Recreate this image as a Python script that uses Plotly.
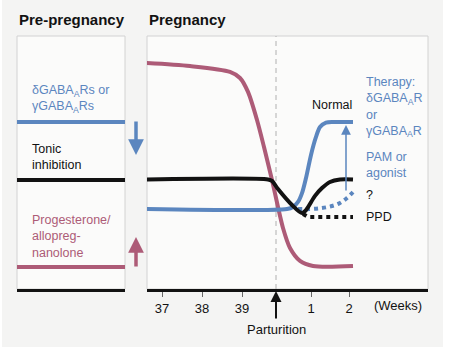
import plotly.graph_objects as go

# ---------------- data ----------------
# x positions on a week timeline (gestational weeks; parturition ~39.85)
tick_vals = [37, 38, 39, 40.725, 41.675]
tick_text = ["37", "38", "39", "1", "2"]
parturition_x = 39.85

# relative levels (0-100)
prog_x = [36.62, 37.7, 38.7, 38.95, 39.15, 39.375, 39.55, 39.75, 40.025, 40.2, 40.45, 40.775, 41.775]
prog_y = [89.3, 88.1, 85.8, 83.4, 77.9, 66.8, 56.1, 43.1, 24.1, 16.2, 11.1, 9.1, 9.1]

tonic_x = [36.62, 39.65, 39.75, 39.9, 40.25, 40.5, 40.6, 40.825, 41.0, 41.2, 41.45, 41.775]
tonic_y = [43.3, 43.3, 42.7, 39.5, 33.2, 30.0, 31.2, 36.8, 39.9, 42.3, 43.3, 43.3]

gaba_x = [36.62, 40.125, 40.275, 40.4, 40.5, 40.6, 40.725, 40.85, 40.95, 41.1, 41.325, 41.775]
gaba_y = [31.6, 31.6, 32.4, 34.4, 37.9, 43.9, 53.0, 60.1, 64.0, 65.8, 66.0, 66.0]

unknown_x = [40.4, 40.7, 41.0, 41.25, 41.45, 41.625, 41.775]
unknown_y = [31.6, 31.6, 32.0, 32.8, 34.0, 36.0, 38.3]

ppd_x = [40.525, 40.65, 41.775]
ppd_y = [29.6, 28.5, 28.5]

# pre-pregnancy reference levels
pre_gaba = 66.0
pre_tonic = 43.1
pre_prog = 8.7

therapy_x = 41.6
therapy_from = 38.3
therapy_to = 64.8

BLUE = "#5b86bf"
PINK = "#ad5b77"
BLACK = "#121212"
FONT = "Liberation Sans, Arial, sans-serif"

W, H = 450, 354
def px(x): return x / W
def py(y): return (H - y) / H

fig = go.Figure()

# left panel traces
for lvl, col in [(pre_gaba, BLUE), (pre_tonic, BLACK), (pre_prog, PINK)]:
    fig.add_trace(go.Scatter(x=[0, 1], y=[lvl, lvl], mode="lines",
                             line=dict(color=col, width=4), xaxis="x", yaxis="y",
                             showlegend=False, hoverinfo="skip"))

# right panel
fig.add_trace(go.Scatter(x=[parturition_x, parturition_x], y=[0, 100], mode="lines",
                         line=dict(color="#b0b0b0", width=1, dash="5px,4px"),
                         xaxis="x2", yaxis="y2", showlegend=False, hoverinfo="skip"))
fig.add_trace(go.Scatter(x=ppd_x, y=ppd_y, mode="lines",
                         line=dict(color=BLACK, width=4, dash="4px,4px"),
                         xaxis="x2", yaxis="y2", showlegend=False))
fig.add_trace(go.Scatter(x=unknown_x, y=unknown_y, mode="lines", line_shape="spline",
                         line=dict(color=BLUE, width=4, dash="4px,4px"),
                         xaxis="x2", yaxis="y2", showlegend=False))
fig.add_trace(go.Scatter(x=prog_x, y=prog_y, mode="lines", line_shape="spline",
                         line=dict(color=PINK, width=4, smoothing=0.8),
                         xaxis="x2", yaxis="y2", showlegend=False))
fig.add_trace(go.Scatter(x=gaba_x, y=gaba_y, mode="lines", line_shape="spline",
                         line=dict(color=BLUE, width=4, smoothing=0.8),
                         xaxis="x2", yaxis="y2", showlegend=False))
fig.add_trace(go.Scatter(x=tonic_x, y=tonic_y, mode="lines", line_shape="spline",
                         line=dict(color=BLACK, width=4, smoothing=0.8),
                         xaxis="x2", yaxis="y2", showlegend=False))

ydom = [py(289), py(36)]
fig.update_layout(
    width=W, height=H,
    margin=dict(l=0, r=0, t=0, b=0),
    paper_bgcolor="#f4f4f3",
    plot_bgcolor="#fbfbfa",
    font=dict(family=FONT, size=13, color=BLACK),
    xaxis=dict(domain=[px(17), px(125)], range=[0, 1], showgrid=False, zeroline=False,
               showticklabels=False, ticks="", showline=True, linecolor=BLACK, linewidth=3,
               fixedrange=True),
    yaxis=dict(domain=ydom, range=[0, 100], showgrid=False, zeroline=False,
               showticklabels=False, showline=False),
    xaxis2=dict(domain=[px(147), px(428)], range=[36.625, 43.65], showgrid=False,
                zeroline=False, tickvals=tick_vals, ticktext=tick_text, ticks="outside",
                ticklen=5, tickcolor="#666", tickwidth=1, showline=True, linecolor=BLACK,
                linewidth=3, tickfont=dict(size=13, color=BLACK), anchor="y2"),
    yaxis2=dict(domain=ydom, range=[0, 100], showgrid=False, zeroline=False,
                showticklabels=False, showline=False, anchor="x2"),
)

shapes = []
for xr, yr in [("x domain", "y domain"), ("x2 domain", "y2 domain")]:
    shapes.append(dict(type="rect", xref=xr, yref=yr, x0=0, x1=1, y0=0, y1=1,
                       line=dict(color="#d2d2d2", width=1), fillcolor="rgba(0,0,0,0)",
                       layer="below"))
# white page margins around the grey card
shapes.append(dict(type="rect", xref="paper", yref="paper", x0=px(443), x1=1, y0=0, y1=1,
                   line=dict(width=0), fillcolor="white", layer="below"))
shapes.append(dict(type="rect", xref="paper", yref="paper", x0=0, x1=1, y0=0, y1=py(347),
                   line=dict(width=0), fillcolor="white", layer="below"))
shapes.append(dict(type="rect", xref="paper", yref="paper", x0=0, x1=px(2), y0=0, y1=1,
                   line=dict(width=0), fillcolor="white", layer="below"))
fig.update_layout(shapes=shapes)

ann = []
def txt(text, x, y, xref, yref, color=BLACK, size=13, xanchor="left", bold=False):
    ann.append(dict(text=f"<b>{text}</b>" if bold else text, x=x, y=y, xref=xref, yref=yref,
                    showarrow=False, xanchor=xanchor, yanchor="middle", align="left",
                    font=dict(family=FONT, size=size, color=color)))

txt("Pre-pregnancy", px(17), py(19), "paper", "paper", size=15, bold=True)
txt("Pregnancy", px(147), py(19), "paper", "paper", size=15, bold=True)

txt("δGABA<sub>A</sub>Rs or<br>γGABA<sub>A</sub>Rs", 0.12, 75.1, "x", "y", color=BLUE, size=12.5)
txt("Tonic<br>inhibition", 0.12, 52.0, "x", "y", size=12.5)
txt("Progesterone/<br>allopreg-<br>nanolone", 0.12, 20.6, "x", "y", color=PINK, size=12.5)

txt("Normal", 41.24, 72.7, "x2", "y2", size=12.5, xanchor="center")
txt("Therapy:<br>δGABA<sub>A</sub>R<br>or<br>γGABA<sub>A</sub>R", 42.05, 72.1, "x2", "y2", color=BLUE, size=12.5)
txt("PAM or<br>agonist", 42.05, 49.2, "x2", "y2", color=BLUE, size=12.5)
txt("?", 42.05, 37.2, "x2", "y2", size=12.5)
txt("PPD", 42.05, 28.5, "x2", "y2", size=12.5)
txt("(Weeks)", 42.9, py(305), "x2", "paper", size=13, xanchor="center")
txt("Parturition", parturition_x, py(329), "x2", "paper", size=13, xanchor="center")

# arrows
ann.append(dict(x=therapy_x, y=therapy_to, ax=therapy_x, ay=therapy_from, xref="x2", yref="y2",
                axref="x2", ayref="y2", text="", showarrow=True, arrowhead=2, arrowsize=1.3,
                arrowwidth=1.5, arrowcolor=BLUE))
ann.append(dict(x=parturition_x, y=py(291), xref="x2", yref="paper", ax=0, ay=29, text="",
                showarrow=True, arrowhead=2, arrowsize=1.1, arrowwidth=2, arrowcolor=BLACK))
ann.append(dict(x=px(136), y=py(155), xref="paper", yref="paper", ax=0, ay=-35, text="",
                showarrow=True, arrowhead=2, arrowsize=0.9, arrowwidth=3.5, arrowcolor=BLUE))
ann.append(dict(x=px(136), y=py(237), xref="paper", yref="paper", ax=0, ay=31, text="",
                showarrow=True, arrowhead=2, arrowsize=0.9, arrowwidth=3.5, arrowcolor=PINK))
fig.update_layout(annotations=ann)

fig.write_html("out.html")
